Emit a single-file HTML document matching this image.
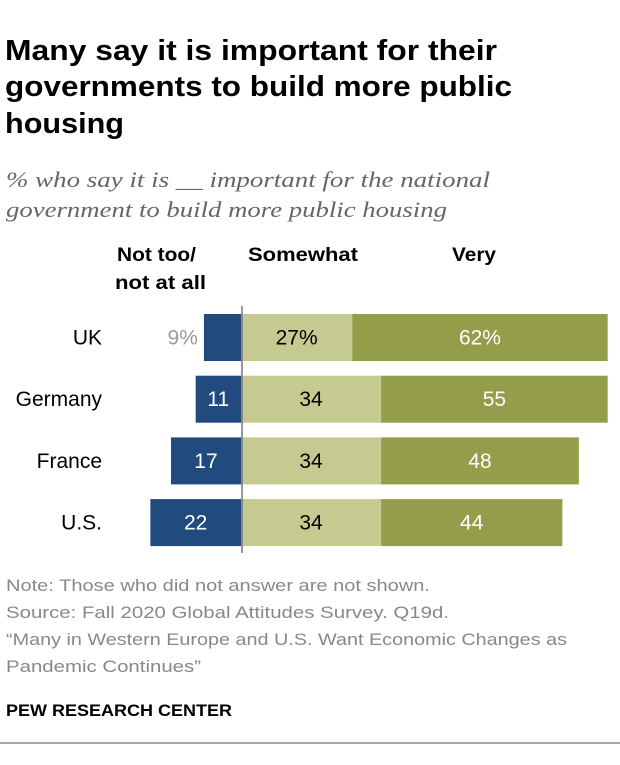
<!DOCTYPE html>
<html><head><meta charset="utf-8"><style>
body{margin:0;background:#fff;}
svg text{font-family:"Liberation Sans",Arial,sans-serif;}
</style></head><body>
<svg width="620" height="760" xmlns="http://www.w3.org/2000/svg">
<g font-size="29" font-weight="bold" fill="#000">
<text x="5" y="60" textLength="492" lengthAdjust="spacingAndGlyphs">Many say it is important for their</text>
<text x="5" y="96" textLength="507" lengthAdjust="spacingAndGlyphs">governments to build more public</text>
<text x="5" y="133" textLength="119" lengthAdjust="spacingAndGlyphs">housing</text>
</g>
<g font-size="22" font-style="italic" fill="#666">
<text x="6" y="187" textLength="484" lengthAdjust="spacingAndGlyphs" style="font-family:'Liberation Serif',serif">% who say it is __ important for the national</text>
<text x="6" y="217" textLength="441" lengthAdjust="spacingAndGlyphs" style="font-family:'Liberation Serif',serif">government to build more public housing</text>
</g>
<g font-size="19" font-weight="bold" fill="#000">
<text x="117" y="261" textLength="79" lengthAdjust="spacingAndGlyphs">Not too/</text>
<text x="115" y="289" textLength="91" lengthAdjust="spacingAndGlyphs">not at all</text>
<text x="248" y="261" textLength="110" lengthAdjust="spacingAndGlyphs">Somewhat</text>
<text x="452" y="261" textLength="44" lengthAdjust="spacingAndGlyphs">Very</text>
</g>
<g id="bars"></g>
<line x1="242" y1="306" x2="242" y2="553" stroke="#777" stroke-width="1.5"/>
<g font-size="17" fill="#888">
<text x="6" y="591" textLength="424" lengthAdjust="spacingAndGlyphs">Note: Those who did not answer are not shown.</text>
<text x="6" y="618" textLength="443" lengthAdjust="spacingAndGlyphs">Source: Fall 2020 Global Attitudes Survey. Q19d.</text>
<text x="6" y="645" textLength="561" lengthAdjust="spacingAndGlyphs">“Many in Western Europe and U.S. Want Economic Changes as</text>
<text x="6" y="672" textLength="195" lengthAdjust="spacingAndGlyphs">Pandemic Continues”</text>
</g>
<text x="6" y="716" font-size="17" font-weight="bold" fill="#000" textLength="226" lengthAdjust="spacingAndGlyphs">PEW RESEARCH CENTER</text>
<line x1="0" y1="743" x2="620" y2="743" stroke="#555" stroke-width="1"/>
</svg>
<script>
const categories=["UK","Germany","France","U.S."];
const notImportant=[9,11,17,22];
const somewhat=[27,34,34,34];
const very=[62,55,48,44];
const x0=241, k=4.12, top0=314, pitch=61.7, bh=47;
const ns="http://www.w3.org/2000/svg";
const g=document.getElementById('bars');
function mk(tag,attrs){const e=document.createElementNS(ns,tag);for(const a in attrs)e.setAttribute(a,attrs[a]);g.appendChild(e);return e;}
function sx(v){return v*k;}
categories.forEach((c,i)=>{
  const y=top0+i*pitch, cy=y+bh/2+7;
  const sfx=i===0?"%":"";
  let t=mk('text',{x:102,y:cy,'text-anchor':'end','font-size':21,fill:'#000'});t.textContent=c;
  
  
  const w1=sx(notImportant[i]);
  let r=mk('rect',{x:x0-w1,y:y,width:w1,height:bh,fill:'#214a7f'});
  
  
  t=mk('text',{'font-size':21});
  if(notImportant[i]<10){t.setAttribute('x',x0-w1-6);t.setAttribute('text-anchor','end');t.setAttribute('fill','#999');}
  else{t.setAttribute('x',x0-w1/2);t.setAttribute('text-anchor','middle');t.setAttribute('fill','#fff');}
  t.setAttribute('y',cy);t.textContent=notImportant[i]+sfx;
  
  
  const w2=sx(somewhat[i]);
  r=mk('rect',{x:x0,y:y,width:w2,height:bh,fill:'#c5ca90'});
  
  
  t=mk('text',{x:x0+w2/2,y:cy,'text-anchor':'middle','font-size':21,fill:'#000'});t.textContent=somewhat[i]+sfx;
  
  
  const w3=sx(very[i]);
  r=mk('rect',{x:x0+w2,y:y,width:w3,height:bh,fill:'#949e4a'});
  
  
  t=mk('text',{x:x0+w2+w3/2,y:cy,'text-anchor':'middle','font-size':21,fill:'#fff'});t.textContent=very[i]+sfx;
  
  
});
</script>
</body></html>
